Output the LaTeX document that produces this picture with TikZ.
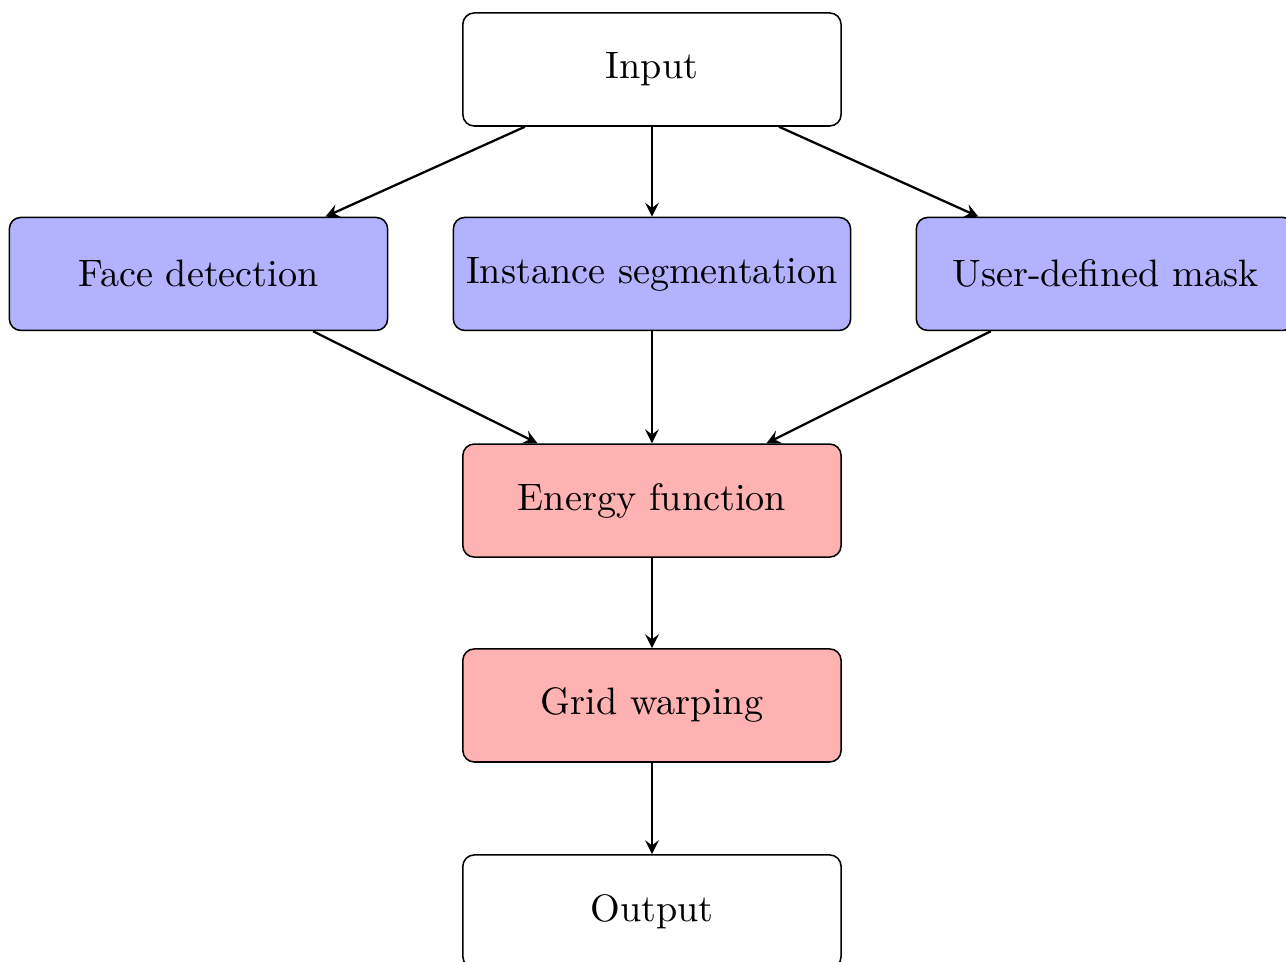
\documentclass[tikz,border=0pt]{standalone}
\usetikzlibrary{arrows}
\begin{document}
\begin{tikzpicture}[
  box/.style={draw, rounded corners=3pt, minimum width=3.48cm, minimum height=1.04cm, thin},
  io/.style={box, fill=white},
  proc/.style={box, fill=blue!30},
  opt/.style={box, fill=red!30},
  arr/.style={->, >=stealth, semithick}
]
\useasboundingbox (0,0) rectangle (11.831,-8.850);
\node[io]   (input)  at (5.998,-0.639) {Input};
\node[proc] (face)   at (1.826,-2.520) {Face detection};
\node[proc] (inst)   at (5.998,-2.520) {Instance segmentation};
\node[proc] (user)   at (10.170,-2.520) {User-defined mask};
\node[opt]  (energy) at (5.998,-4.605) {Energy function};
\node[opt]  (grid)   at (5.998,-6.490) {Grid warping};
\node[io]   (output) at (5.998,-8.385) {Output};
\draw[arr] (input) -- (face);
\draw[arr] (input) -- (inst);
\draw[arr] (input) -- (user);
\draw[arr] (face) -- (energy);
\draw[arr] (inst) -- (energy);
\draw[arr] (user) -- (energy);
\draw[arr] (energy) -- (grid);
\draw[arr] (grid) -- (output);
\end{tikzpicture}
\end{document}
